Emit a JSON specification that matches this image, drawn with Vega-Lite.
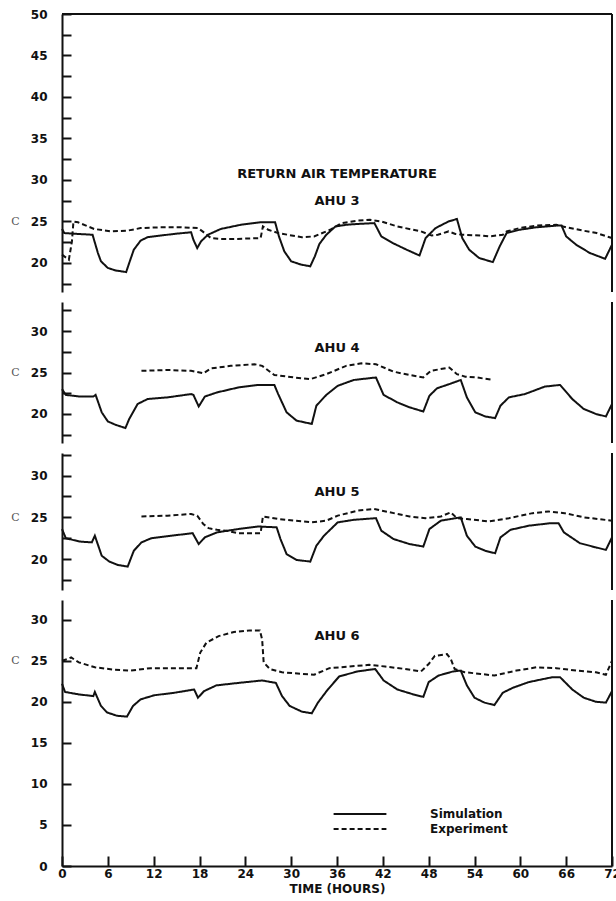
{
  "$schema": "https://vega.github.io/schema/vega-lite/v6.json",
  "background": "white",
  "padding": {"left": 10, "top": 8, "right": 0, "bottom": 4},
  "spacing": 8,
  "datasets": {
    "curves": [
      {"ahu":"AHU 3","series":"Simulation","hour":0,"temp":24.1},{"ahu":"AHU 3","series":"Simulation","hour":0.3,"temp":23.6},{"ahu":"AHU 3","series":"Simulation","hour":2,"temp":23.5},{"ahu":"AHU 3","series":"Simulation","hour":4.0,"temp":23.4},{"ahu":"AHU 3","series":"Simulation","hour":4.7,"temp":21.2},{"ahu":"AHU 3","series":"Simulation","hour":5.1,"temp":20.2},{"ahu":"AHU 3","series":"Simulation","hour":6.0,"temp":19.4},{"ahu":"AHU 3","series":"Simulation","hour":7.0,"temp":19.1},{"ahu":"AHU 3","series":"Simulation","hour":8.4,"temp":18.9},{"ahu":"AHU 3","series":"Simulation","hour":8.8,"temp":20.0},{"ahu":"AHU 3","series":"Simulation","hour":9.4,"temp":21.6},{"ahu":"AHU 3","series":"Simulation","hour":10.3,"temp":22.7},{"ahu":"AHU 3","series":"Simulation","hour":11.2,"temp":23.1},{"ahu":"AHU 3","series":"Simulation","hour":12.9,"temp":23.3},{"ahu":"AHU 3","series":"Simulation","hour":14.7,"temp":23.5},{"ahu":"AHU 3","series":"Simulation","hour":16.9,"temp":23.7},{"ahu":"AHU 3","series":"Simulation","hour":17.2,"temp":22.8},{"ahu":"AHU 3","series":"Simulation","hour":17.7,"temp":21.8},{"ahu":"AHU 3","series":"Simulation","hour":18.2,"temp":22.6},{"ahu":"AHU 3","series":"Simulation","hour":19.1,"temp":23.4},{"ahu":"AHU 3","series":"Simulation","hour":20.8,"temp":24.1},{"ahu":"AHU 3","series":"Simulation","hour":23.4,"temp":24.6},{"ahu":"AHU 3","series":"Simulation","hour":26.0,"temp":24.9},{"ahu":"AHU 3","series":"Simulation","hour":27.9,"temp":24.9},{"ahu":"AHU 3","series":"Simulation","hour":28.4,"temp":23.2},{"ahu":"AHU 3","series":"Simulation","hour":29.1,"temp":21.4},{"ahu":"AHU 3","series":"Simulation","hour":30.0,"temp":20.2},{"ahu":"AHU 3","series":"Simulation","hour":31.3,"temp":19.8},{"ahu":"AHU 3","series":"Simulation","hour":32.5,"temp":19.6},{"ahu":"AHU 3","series":"Simulation","hour":33.1,"temp":20.8},{"ahu":"AHU 3","series":"Simulation","hour":33.7,"temp":22.3},{"ahu":"AHU 3","series":"Simulation","hour":34.6,"temp":23.4},{"ahu":"AHU 3","series":"Simulation","hour":35.8,"temp":24.4},{"ahu":"AHU 3","series":"Simulation","hour":37.2,"temp":24.6},{"ahu":"AHU 3","series":"Simulation","hour":38.7,"temp":24.7},{"ahu":"AHU 3","series":"Simulation","hour":40.9,"temp":24.8},{"ahu":"AHU 3","series":"Simulation","hour":41.8,"temp":23.2},{"ahu":"AHU 3","series":"Simulation","hour":43.3,"temp":22.4},{"ahu":"AHU 3","series":"Simulation","hour":45.1,"temp":21.6},{"ahu":"AHU 3","series":"Simulation","hour":46.8,"temp":20.9},{"ahu":"AHU 3","series":"Simulation","hour":47.6,"temp":23.0},{"ahu":"AHU 3","series":"Simulation","hour":48.9,"temp":24.2},{"ahu":"AHU 3","series":"Simulation","hour":50.6,"temp":25.0},{"ahu":"AHU 3","series":"Simulation","hour":51.7,"temp":25.3},{"ahu":"AHU 3","series":"Simulation","hour":52.4,"temp":23.0},{"ahu":"AHU 3","series":"Simulation","hour":53.3,"temp":21.6},{"ahu":"AHU 3","series":"Simulation","hour":54.6,"temp":20.6},{"ahu":"AHU 3","series":"Simulation","hour":56.4,"temp":20.1},{"ahu":"AHU 3","series":"Simulation","hour":57.3,"temp":22.0},{"ahu":"AHU 3","series":"Simulation","hour":58.2,"temp":23.6},{"ahu":"AHU 3","series":"Simulation","hour":59.9,"temp":24.0},{"ahu":"AHU 3","series":"Simulation","hour":62.1,"temp":24.3},{"ahu":"AHU 3","series":"Simulation","hour":64.7,"temp":24.5},{"ahu":"AHU 3","series":"Simulation","hour":65.4,"temp":24.5},{"ahu":"AHU 3","series":"Simulation","hour":66.0,"temp":23.2},{"ahu":"AHU 3","series":"Simulation","hour":67.3,"temp":22.2},{"ahu":"AHU 3","series":"Simulation","hour":69.1,"temp":21.2},{"ahu":"AHU 3","series":"Simulation","hour":71.1,"temp":20.5},{"ahu":"AHU 3","series":"Simulation","hour":72,"temp":22.2},
      {"ahu":"AHU 3","series":"Experiment","hour":0,"temp":21.0},{"ahu":"AHU 3","series":"Experiment","hour":0.9,"temp":20.4},{"ahu":"AHU 3","series":"Experiment","hour":1.3,"temp":22.6},{"ahu":"AHU 3","series":"Experiment","hour":1.5,"temp":25.0},{"ahu":"AHU 3","series":"Experiment","hour":2.1,"temp":24.9},{"ahu":"AHU 3","series":"Experiment","hour":4.2,"temp":24.1},{"ahu":"AHU 3","series":"Experiment","hour":6.4,"temp":23.8},{"ahu":"AHU 3","series":"Experiment","hour":8.6,"temp":23.9},{"ahu":"AHU 3","series":"Experiment","hour":10.3,"temp":24.2},{"ahu":"AHU 3","series":"Experiment","hour":12.9,"temp":24.3},{"ahu":"AHU 3","series":"Experiment","hour":15.6,"temp":24.3},{"ahu":"AHU 3","series":"Experiment","hour":17.8,"temp":24.2},{"ahu":"AHU 3","series":"Experiment","hour":18.4,"temp":23.8},{"ahu":"AHU 3","series":"Experiment","hour":19.5,"temp":23.0},{"ahu":"AHU 3","series":"Experiment","hour":20.8,"temp":22.9},{"ahu":"AHU 3","series":"Experiment","hour":23.0,"temp":22.9},{"ahu":"AHU 3","series":"Experiment","hour":26.0,"temp":23.0},{"ahu":"AHU 3","series":"Experiment","hour":26.3,"temp":24.4},{"ahu":"AHU 3","series":"Experiment","hour":27.0,"temp":24.0},{"ahu":"AHU 3","series":"Experiment","hour":28.3,"temp":23.6},{"ahu":"AHU 3","series":"Experiment","hour":31.4,"temp":23.1},{"ahu":"AHU 3","series":"Experiment","hour":33.0,"temp":23.2},{"ahu":"AHU 3","series":"Experiment","hour":35.1,"temp":24.0},{"ahu":"AHU 3","series":"Experiment","hour":36.6,"temp":24.8},{"ahu":"AHU 3","series":"Experiment","hour":38.7,"temp":25.1},{"ahu":"AHU 3","series":"Experiment","hour":40.3,"temp":25.2},{"ahu":"AHU 3","series":"Experiment","hour":41.8,"temp":25.0},{"ahu":"AHU 3","series":"Experiment","hour":43.9,"temp":24.4},{"ahu":"AHU 3","series":"Experiment","hour":47.0,"temp":23.8},{"ahu":"AHU 3","series":"Experiment","hour":48.4,"temp":23.3},{"ahu":"AHU 3","series":"Experiment","hour":49.2,"temp":23.4},{"ahu":"AHU 3","series":"Experiment","hour":50.6,"temp":23.8},{"ahu":"AHU 3","series":"Experiment","hour":51.5,"temp":23.5},{"ahu":"AHU 3","series":"Experiment","hour":52.4,"temp":23.4},{"ahu":"AHU 3","series":"Experiment","hour":55.0,"temp":23.3},{"ahu":"AHU 3","series":"Experiment","hour":56.0,"temp":23.2},{"ahu":"AHU 3","series":"Experiment","hour":57.7,"temp":23.4},{"ahu":"AHU 3","series":"Experiment","hour":58.2,"temp":23.8},{"ahu":"AHU 3","series":"Experiment","hour":59.9,"temp":24.2},{"ahu":"AHU 3","series":"Experiment","hour":62.1,"temp":24.5},{"ahu":"AHU 3","series":"Experiment","hour":64.7,"temp":24.6},{"ahu":"AHU 3","series":"Experiment","hour":66.0,"temp":24.3},{"ahu":"AHU 3","series":"Experiment","hour":68.2,"temp":23.9},{"ahu":"AHU 3","series":"Experiment","hour":70.0,"temp":23.6},{"ahu":"AHU 3","series":"Experiment","hour":71.3,"temp":23.2},{"ahu":"AHU 3","series":"Experiment","hour":72,"temp":23.0},
      {"ahu":"AHU 4","series":"Simulation","hour":0,"temp":23.0},{"ahu":"AHU 4","series":"Simulation","hour":0.5,"temp":22.3},{"ahu":"AHU 4","series":"Simulation","hour":2.3,"temp":22.1},{"ahu":"AHU 4","series":"Simulation","hour":4.1,"temp":22.1},{"ahu":"AHU 4","series":"Simulation","hour":4.4,"temp":22.3},{"ahu":"AHU 4","series":"Simulation","hour":5.2,"temp":20.2},{"ahu":"AHU 4","series":"Simulation","hour":6.0,"temp":19.1},{"ahu":"AHU 4","series":"Simulation","hour":7.0,"temp":18.7},{"ahu":"AHU 4","series":"Simulation","hour":8.3,"temp":18.3},{"ahu":"AHU 4","series":"Simulation","hour":8.8,"temp":19.4},{"ahu":"AHU 4","series":"Simulation","hour":9.9,"temp":21.2},{"ahu":"AHU 4","series":"Simulation","hour":11.2,"temp":21.8},{"ahu":"AHU 4","series":"Simulation","hour":13.8,"temp":22.0},{"ahu":"AHU 4","series":"Simulation","hour":16.9,"temp":22.4},{"ahu":"AHU 4","series":"Simulation","hour":17.2,"temp":22.3},{"ahu":"AHU 4","series":"Simulation","hour":17.9,"temp":20.9},{"ahu":"AHU 4","series":"Simulation","hour":18.7,"temp":22.1},{"ahu":"AHU 4","series":"Simulation","hour":20.3,"temp":22.6},{"ahu":"AHU 4","series":"Simulation","hour":23.1,"temp":23.2},{"ahu":"AHU 4","series":"Simulation","hour":25.7,"temp":23.5},{"ahu":"AHU 4","series":"Simulation","hour":27.8,"temp":23.5},{"ahu":"AHU 4","series":"Simulation","hour":28.3,"temp":22.4},{"ahu":"AHU 4","series":"Simulation","hour":29.4,"temp":20.2},{"ahu":"AHU 4","series":"Simulation","hour":30.7,"temp":19.2},{"ahu":"AHU 4","series":"Simulation","hour":32.7,"temp":18.8},{"ahu":"AHU 4","series":"Simulation","hour":33.3,"temp":21.0},{"ahu":"AHU 4","series":"Simulation","hour":34.6,"temp":22.3},{"ahu":"AHU 4","series":"Simulation","hour":36.1,"temp":23.4},{"ahu":"AHU 4","series":"Simulation","hour":38.2,"temp":24.1},{"ahu":"AHU 4","series":"Simulation","hour":41.1,"temp":24.4},{"ahu":"AHU 4","series":"Simulation","hour":42.1,"temp":22.3},{"ahu":"AHU 4","series":"Simulation","hour":43.9,"temp":21.4},{"ahu":"AHU 4","series":"Simulation","hour":45.5,"temp":20.8},{"ahu":"AHU 4","series":"Simulation","hour":47.3,"temp":20.3},{"ahu":"AHU 4","series":"Simulation","hour":48.1,"temp":22.2},{"ahu":"AHU 4","series":"Simulation","hour":49.1,"temp":23.1},{"ahu":"AHU 4","series":"Simulation","hour":50.7,"temp":23.6},{"ahu":"AHU 4","series":"Simulation","hour":52.2,"temp":24.1},{"ahu":"AHU 4","series":"Simulation","hour":53.0,"temp":22.0},{"ahu":"AHU 4","series":"Simulation","hour":54.1,"temp":20.2},{"ahu":"AHU 4","series":"Simulation","hour":55.4,"temp":19.7},{"ahu":"AHU 4","series":"Simulation","hour":56.7,"temp":19.5},{"ahu":"AHU 4","series":"Simulation","hour":57.4,"temp":21.0},{"ahu":"AHU 4","series":"Simulation","hour":58.5,"temp":22.0},{"ahu":"AHU 4","series":"Simulation","hour":60.6,"temp":22.4},{"ahu":"AHU 4","series":"Simulation","hour":63.2,"temp":23.3},{"ahu":"AHU 4","series":"Simulation","hour":65.2,"temp":23.5},{"ahu":"AHU 4","series":"Simulation","hour":66.8,"temp":21.8},{"ahu":"AHU 4","series":"Simulation","hour":68.3,"temp":20.6},{"ahu":"AHU 4","series":"Simulation","hour":69.9,"temp":20.0},{"ahu":"AHU 4","series":"Simulation","hour":71.2,"temp":19.7},{"ahu":"AHU 4","series":"Simulation","hour":72,"temp":21.2},
      {"ahu":"AHU 4","series":"Experiment","hour":10.4,"temp":25.2},{"ahu":"AHU 4","series":"Experiment","hour":13.8,"temp":25.3},{"ahu":"AHU 4","series":"Experiment","hour":16.9,"temp":25.2},{"ahu":"AHU 4","series":"Experiment","hour":18.5,"temp":24.9},{"ahu":"AHU 4","series":"Experiment","hour":19.5,"temp":25.5},{"ahu":"AHU 4","series":"Experiment","hour":22.1,"temp":25.8},{"ahu":"AHU 4","series":"Experiment","hour":25.2,"temp":26.0},{"ahu":"AHU 4","series":"Experiment","hour":26.2,"temp":25.8},{"ahu":"AHU 4","series":"Experiment","hour":27.8,"temp":24.7},{"ahu":"AHU 4","series":"Experiment","hour":30.4,"temp":24.4},{"ahu":"AHU 4","series":"Experiment","hour":32.5,"temp":24.2},{"ahu":"AHU 4","series":"Experiment","hour":34.6,"temp":24.8},{"ahu":"AHU 4","series":"Experiment","hour":37.2,"temp":25.8},{"ahu":"AHU 4","series":"Experiment","hour":39.2,"temp":26.1},{"ahu":"AHU 4","series":"Experiment","hour":41.1,"temp":26.0},{"ahu":"AHU 4","series":"Experiment","hour":43.4,"temp":25.1},{"ahu":"AHU 4","series":"Experiment","hour":45.5,"temp":24.7},{"ahu":"AHU 4","series":"Experiment","hour":47.3,"temp":24.4},{"ahu":"AHU 4","series":"Experiment","hour":48.3,"temp":25.2},{"ahu":"AHU 4","series":"Experiment","hour":50.7,"temp":25.6},{"ahu":"AHU 4","series":"Experiment","hour":51.7,"temp":24.8},{"ahu":"AHU 4","series":"Experiment","hour":52.8,"temp":24.5},{"ahu":"AHU 4","series":"Experiment","hour":54.3,"temp":24.4},{"ahu":"AHU 4","series":"Experiment","hour":56.4,"temp":24.1},
      {"ahu":"AHU 5","series":"Simulation","hour":0,"temp":23.6},{"ahu":"AHU 5","series":"Simulation","hour":0.5,"temp":22.5},{"ahu":"AHU 5","series":"Simulation","hour":2.3,"temp":22.1},{"ahu":"AHU 5","series":"Simulation","hour":3.9,"temp":22.0},{"ahu":"AHU 5","series":"Simulation","hour":4.3,"temp":22.8},{"ahu":"AHU 5","series":"Simulation","hour":5.2,"temp":20.4},{"ahu":"AHU 5","series":"Simulation","hour":6.2,"temp":19.7},{"ahu":"AHU 5","series":"Simulation","hour":7.3,"temp":19.3},{"ahu":"AHU 5","series":"Simulation","hour":8.6,"temp":19.1},{"ahu":"AHU 5","series":"Simulation","hour":9.4,"temp":21.0},{"ahu":"AHU 5","series":"Simulation","hour":10.4,"temp":22.0},{"ahu":"AHU 5","series":"Simulation","hour":11.7,"temp":22.5},{"ahu":"AHU 5","series":"Simulation","hour":14.3,"temp":22.8},{"ahu":"AHU 5","series":"Simulation","hour":17.1,"temp":23.1},{"ahu":"AHU 5","series":"Simulation","hour":17.9,"temp":21.8},{"ahu":"AHU 5","series":"Simulation","hour":18.7,"temp":22.6},{"ahu":"AHU 5","series":"Simulation","hour":20.3,"temp":23.2},{"ahu":"AHU 5","series":"Simulation","hour":23.1,"temp":23.6},{"ahu":"AHU 5","series":"Simulation","hour":25.7,"temp":23.9},{"ahu":"AHU 5","series":"Simulation","hour":28.1,"temp":23.8},{"ahu":"AHU 5","series":"Simulation","hour":28.6,"temp":22.4},{"ahu":"AHU 5","series":"Simulation","hour":29.4,"temp":20.6},{"ahu":"AHU 5","series":"Simulation","hour":30.7,"temp":19.9},{"ahu":"AHU 5","series":"Simulation","hour":32.5,"temp":19.7},{"ahu":"AHU 5","series":"Simulation","hour":33.3,"temp":21.6},{"ahu":"AHU 5","series":"Simulation","hour":34.3,"temp":22.8},{"ahu":"AHU 5","series":"Simulation","hour":36.1,"temp":24.4},{"ahu":"AHU 5","series":"Simulation","hour":38.2,"temp":24.7},{"ahu":"AHU 5","series":"Simulation","hour":41.1,"temp":24.9},{"ahu":"AHU 5","series":"Simulation","hour":41.8,"temp":23.4},{"ahu":"AHU 5","series":"Simulation","hour":43.4,"temp":22.4},{"ahu":"AHU 5","series":"Simulation","hour":45.5,"temp":21.8},{"ahu":"AHU 5","series":"Simulation","hour":47.3,"temp":21.5},{"ahu":"AHU 5","series":"Simulation","hour":48.1,"temp":23.6},{"ahu":"AHU 5","series":"Simulation","hour":49.6,"temp":24.6},{"ahu":"AHU 5","series":"Simulation","hour":52.2,"temp":25.0},{"ahu":"AHU 5","series":"Simulation","hour":53.0,"temp":22.8},{"ahu":"AHU 5","series":"Simulation","hour":54.1,"temp":21.5},{"ahu":"AHU 5","series":"Simulation","hour":55.4,"temp":21.0},{"ahu":"AHU 5","series":"Simulation","hour":56.7,"temp":20.7},{"ahu":"AHU 5","series":"Simulation","hour":57.4,"temp":22.6},{"ahu":"AHU 5","series":"Simulation","hour":58.7,"temp":23.5},{"ahu":"AHU 5","series":"Simulation","hour":61.1,"temp":24.0},{"ahu":"AHU 5","series":"Simulation","hour":64.0,"temp":24.3},{"ahu":"AHU 5","series":"Simulation","hour":65.0,"temp":24.3},{"ahu":"AHU 5","series":"Simulation","hour":65.7,"temp":23.2},{"ahu":"AHU 5","series":"Simulation","hour":67.8,"temp":21.9},{"ahu":"AHU 5","series":"Simulation","hour":69.9,"temp":21.4},{"ahu":"AHU 5","series":"Simulation","hour":71.2,"temp":21.1},{"ahu":"AHU 5","series":"Simulation","hour":72,"temp":22.6},
      {"ahu":"AHU 5","series":"Experiment","hour":10.4,"temp":25.1},{"ahu":"AHU 5","series":"Experiment","hour":13.8,"temp":25.2},{"ahu":"AHU 5","series":"Experiment","hour":16.9,"temp":25.4},{"ahu":"AHU 5","series":"Experiment","hour":17.7,"temp":25.2},{"ahu":"AHU 5","series":"Experiment","hour":18.5,"temp":24.2},{"ahu":"AHU 5","series":"Experiment","hour":19.2,"temp":23.7},{"ahu":"AHU 5","series":"Experiment","hour":20.3,"temp":23.5},{"ahu":"AHU 5","series":"Experiment","hour":21.5,"temp":23.4},{"ahu":"AHU 5","series":"Experiment","hour":23.1,"temp":23.1},{"ahu":"AHU 5","series":"Experiment","hour":26.0,"temp":23.1},{"ahu":"AHU 5","series":"Experiment","hour":26.3,"temp":25.1},{"ahu":"AHU 5","series":"Experiment","hour":28.3,"temp":24.8},{"ahu":"AHU 5","series":"Experiment","hour":30.4,"temp":24.6},{"ahu":"AHU 5","series":"Experiment","hour":32.7,"temp":24.4},{"ahu":"AHU 5","series":"Experiment","hour":34.6,"temp":24.6},{"ahu":"AHU 5","series":"Experiment","hour":36.1,"temp":25.2},{"ahu":"AHU 5","series":"Experiment","hour":38.7,"temp":25.8},{"ahu":"AHU 5","series":"Experiment","hour":40.8,"temp":26.0},{"ahu":"AHU 5","series":"Experiment","hour":42.9,"temp":25.6},{"ahu":"AHU 5","series":"Experiment","hour":45.5,"temp":25.1},{"ahu":"AHU 5","series":"Experiment","hour":47.6,"temp":24.9},{"ahu":"AHU 5","series":"Experiment","hour":49.6,"temp":25.1},{"ahu":"AHU 5","series":"Experiment","hour":50.9,"temp":25.6},{"ahu":"AHU 5","series":"Experiment","hour":51.7,"temp":24.9},{"ahu":"AHU 5","series":"Experiment","hour":53.0,"temp":24.8},{"ahu":"AHU 5","series":"Experiment","hour":55.9,"temp":24.5},{"ahu":"AHU 5","series":"Experiment","hour":58.5,"temp":24.9},{"ahu":"AHU 5","series":"Experiment","hour":61.6,"temp":25.5},{"ahu":"AHU 5","series":"Experiment","hour":63.7,"temp":25.7},{"ahu":"AHU 5","series":"Experiment","hour":65.8,"temp":25.5},{"ahu":"AHU 5","series":"Experiment","hour":68.3,"temp":25.0},{"ahu":"AHU 5","series":"Experiment","hour":72,"temp":24.6},
      {"ahu":"AHU 6","series":"Simulation","hour":0,"temp":22.2},{"ahu":"AHU 6","series":"Simulation","hour":0.4,"temp":21.2},{"ahu":"AHU 6","series":"Simulation","hour":2.2,"temp":20.9},{"ahu":"AHU 6","series":"Simulation","hour":4.1,"temp":20.7},{"ahu":"AHU 6","series":"Simulation","hour":4.3,"temp":21.2},{"ahu":"AHU 6","series":"Simulation","hour":5.1,"temp":19.5},{"ahu":"AHU 6","series":"Simulation","hour":5.9,"temp":18.7},{"ahu":"AHU 6","series":"Simulation","hour":7.2,"temp":18.3},{"ahu":"AHU 6","series":"Simulation","hour":8.5,"temp":18.2},{"ahu":"AHU 6","series":"Simulation","hour":9.3,"temp":19.5},{"ahu":"AHU 6","series":"Simulation","hour":10.3,"temp":20.3},{"ahu":"AHU 6","series":"Simulation","hour":12.1,"temp":20.8},{"ahu":"AHU 6","series":"Simulation","hour":14.7,"temp":21.1},{"ahu":"AHU 6","series":"Simulation","hour":17.3,"temp":21.5},{"ahu":"AHU 6","series":"Simulation","hour":17.8,"temp":20.5},{"ahu":"AHU 6","series":"Simulation","hour":18.6,"temp":21.3},{"ahu":"AHU 6","series":"Simulation","hour":20.2,"temp":22.0},{"ahu":"AHU 6","series":"Simulation","hour":23.1,"temp":22.3},{"ahu":"AHU 6","series":"Simulation","hour":26.2,"temp":22.6},{"ahu":"AHU 6","series":"Simulation","hour":28.0,"temp":22.3},{"ahu":"AHU 6","series":"Simulation","hour":28.8,"temp":20.7},{"ahu":"AHU 6","series":"Simulation","hour":29.8,"temp":19.5},{"ahu":"AHU 6","series":"Simulation","hour":31.4,"temp":18.8},{"ahu":"AHU 6","series":"Simulation","hour":32.7,"temp":18.6},{"ahu":"AHU 6","series":"Simulation","hour":33.5,"temp":19.9},{"ahu":"AHU 6","series":"Simulation","hour":34.8,"temp":21.5},{"ahu":"AHU 6","series":"Simulation","hour":36.3,"temp":23.1},{"ahu":"AHU 6","series":"Simulation","hour":38.7,"temp":23.7},{"ahu":"AHU 6","series":"Simulation","hour":41.0,"temp":24.0},{"ahu":"AHU 6","series":"Simulation","hour":42.1,"temp":22.6},{"ahu":"AHU 6","series":"Simulation","hour":43.9,"temp":21.5},{"ahu":"AHU 6","series":"Simulation","hour":46.0,"temp":20.9},{"ahu":"AHU 6","series":"Simulation","hour":47.3,"temp":20.6},{"ahu":"AHU 6","series":"Simulation","hour":48.0,"temp":22.4},{"ahu":"AHU 6","series":"Simulation","hour":49.3,"temp":23.2},{"ahu":"AHU 6","series":"Simulation","hour":51.2,"temp":23.7},{"ahu":"AHU 6","series":"Simulation","hour":52.2,"temp":23.8},{"ahu":"AHU 6","series":"Simulation","hour":53.0,"temp":22.0},{"ahu":"AHU 6","series":"Simulation","hour":54.0,"temp":20.5},{"ahu":"AHU 6","series":"Simulation","hour":55.3,"temp":19.9},{"ahu":"AHU 6","series":"Simulation","hour":56.6,"temp":19.6},{"ahu":"AHU 6","series":"Simulation","hour":57.7,"temp":21.1},{"ahu":"AHU 6","series":"Simulation","hour":59.0,"temp":21.7},{"ahu":"AHU 6","series":"Simulation","hour":61.1,"temp":22.4},{"ahu":"AHU 6","series":"Simulation","hour":64.2,"temp":23.0},{"ahu":"AHU 6","series":"Simulation","hour":65.2,"temp":23.0},{"ahu":"AHU 6","series":"Simulation","hour":66.8,"temp":21.5},{"ahu":"AHU 6","series":"Simulation","hour":68.3,"temp":20.5},{"ahu":"AHU 6","series":"Simulation","hour":69.9,"temp":20.0},{"ahu":"AHU 6","series":"Simulation","hour":71.2,"temp":19.9},{"ahu":"AHU 6","series":"Simulation","hour":72,"temp":21.3},
      {"ahu":"AHU 6","series":"Experiment","hour":0,"temp":25.0},{"ahu":"AHU 6","series":"Experiment","hour":0.7,"temp":25.2},{"ahu":"AHU 6","series":"Experiment","hour":1.2,"temp":25.4},{"ahu":"AHU 6","series":"Experiment","hour":2.2,"temp":24.8},{"ahu":"AHU 6","series":"Experiment","hour":4.3,"temp":24.2},{"ahu":"AHU 6","series":"Experiment","hour":6.9,"temp":23.9},{"ahu":"AHU 6","series":"Experiment","hour":9.0,"temp":23.8},{"ahu":"AHU 6","series":"Experiment","hour":11.6,"temp":24.1},{"ahu":"AHU 6","series":"Experiment","hour":14.7,"temp":24.1},{"ahu":"AHU 6","series":"Experiment","hour":17.6,"temp":24.1},{"ahu":"AHU 6","series":"Experiment","hour":18.1,"temp":26.0},{"ahu":"AHU 6","series":"Experiment","hour":18.9,"temp":27.2},{"ahu":"AHU 6","series":"Experiment","hour":20.5,"temp":28.0},{"ahu":"AHU 6","series":"Experiment","hour":22.5,"temp":28.5},{"ahu":"AHU 6","series":"Experiment","hour":24.6,"temp":28.7},{"ahu":"AHU 6","series":"Experiment","hour":25.9,"temp":28.7},{"ahu":"AHU 6","series":"Experiment","hour":26.2,"temp":27.6},{"ahu":"AHU 6","series":"Experiment","hour":26.4,"temp":24.8},{"ahu":"AHU 6","series":"Experiment","hour":27.2,"temp":24.0},{"ahu":"AHU 6","series":"Experiment","hour":28.8,"temp":23.6},{"ahu":"AHU 6","series":"Experiment","hour":31.4,"temp":23.4},{"ahu":"AHU 6","series":"Experiment","hour":33.0,"temp":23.3},{"ahu":"AHU 6","series":"Experiment","hour":35.0,"temp":24.1},{"ahu":"AHU 6","series":"Experiment","hour":37.6,"temp":24.3},{"ahu":"AHU 6","series":"Experiment","hour":40.2,"temp":24.5},{"ahu":"AHU 6","series":"Experiment","hour":42.3,"temp":24.3},{"ahu":"AHU 6","series":"Experiment","hour":44.9,"temp":24.0},{"ahu":"AHU 6","series":"Experiment","hour":47.0,"temp":23.7},{"ahu":"AHU 6","series":"Experiment","hour":48.0,"temp":24.6},{"ahu":"AHU 6","series":"Experiment","hour":48.8,"temp":25.6},{"ahu":"AHU 6","series":"Experiment","hour":50.4,"temp":25.8},{"ahu":"AHU 6","series":"Experiment","hour":50.9,"temp":25.2},{"ahu":"AHU 6","series":"Experiment","hour":51.4,"temp":24.0},{"ahu":"AHU 6","series":"Experiment","hour":52.7,"temp":23.6},{"ahu":"AHU 6","series":"Experiment","hour":54.8,"temp":23.4},{"ahu":"AHU 6","series":"Experiment","hour":56.6,"temp":23.2},{"ahu":"AHU 6","series":"Experiment","hour":59.5,"temp":23.8},{"ahu":"AHU 6","series":"Experiment","hour":62.1,"temp":24.2},{"ahu":"AHU 6","series":"Experiment","hour":64.7,"temp":24.1},{"ahu":"AHU 6","series":"Experiment","hour":67.3,"temp":23.8},{"ahu":"AHU 6","series":"Experiment","hour":69.9,"temp":23.6},{"ahu":"AHU 6","series":"Experiment","hour":71.2,"temp":23.3},{"ahu":"AHU 6","series":"Experiment","hour":72,"temp":25.0}
    ]
  },
  "vconcat": [
    {
      "width": 550, "height": 278,
      "resolve": {"axis": {"y": "independent"}},
      "layer": [
        {"data": {"name": "curves"}, "transform": [{"filter": "datum.ahu === 'AHU 3'"}],
         "mark": {"type": "line", "strokeWidth": 2, "color": "#111"},
         "encoding": {
           "x": {"field": "hour", "type": "quantitative", "scale": {"domain": [0, 72], "nice": false}, "axis": null},
           "y": {"field": "temp", "type": "quantitative", "scale": {"domain": [16.5, 50], "nice": false, "zero": false},
                 "axis": {"orient": "left", "values": [20,25,30,35,40,45,50], "title": "C", "titleY": 207.5}},
           "strokeDash": {"field": "series", "type": "nominal", "scale": {"domain": ["Simulation", "Experiment"], "range": [[1, 0], [5, 3]]}, "legend": null}
         }},
        {"data": {"values": [{}]}, "mark": {"type": "rule", "strokeWidth": 2, "color": "#111"}, "encoding": {"y": {"datum": 50, "axis": null}}},
        {"data": {"values": [{}]}, "mark": {"type": "rule", "strokeWidth": 2, "color": "#111"}, "encoding": {"x": {"datum": 72}}},
        {"data": {"values": [{}]}, "mark": {"type": "text", "text": "RETURN AIR TEMPERATURE", "font": "DejaVu Sans", "fontWeight": "bold", "fontSize": 13, "color": "#111"}, "encoding": {"x": {"datum": 36}, "y": {"datum": 30.7, "axis": null}}},
        {"data": {"values": [{}]}, "mark": {"type": "text", "text": "AHU 3", "font": "DejaVu Sans", "fontWeight": "bold", "fontSize": 13, "color": "#111"}, "encoding": {"x": {"datum": 36}, "y": {"datum": 27.5, "axis": {"orient": "left", "values": [17.5,22.5,27.5,32.5,37.5,42.5,47.5], "labels": false, "domain": false, "title": null}}}}
      ]
    },
    {
      "width": 550, "height": 141,
      "resolve": {"axis": {"y": "independent"}},
      "layer": [
        {"data": {"name": "curves"}, "transform": [{"filter": "datum.ahu === 'AHU 4'"}],
         "mark": {"type": "line", "strokeWidth": 2, "color": "#111"},
         "encoding": {
           "x": {"field": "hour", "type": "quantitative", "scale": {"domain": [0, 72], "nice": false}, "axis": null},
           "y": {"field": "temp", "type": "quantitative", "scale": {"domain": [16.5, 33.5], "nice": false, "zero": false},
                 "axis": {"orient": "left", "values": [20,25,30], "title": "C", "titleY": 70.5}},
           "strokeDash": {"field": "series", "type": "nominal", "scale": {"domain": ["Simulation", "Experiment"], "range": [[1, 0], [5, 3]]}, "legend": null}
         }},
        {"data": {"values": [{}]}, "mark": {"type": "rule", "strokeWidth": 2, "color": "#111"}, "encoding": {"x": {"datum": 72}}},
        {"data": {"values": [{}]}, "mark": {"type": "text", "text": "AHU 4", "font": "DejaVu Sans", "fontWeight": "bold", "fontSize": 13, "color": "#111"}, "encoding": {"x": {"datum": 36}, "y": {"datum": 28.0, "axis": {"orient": "left", "values": [17.5,22.5,27.5,32.5], "labels": false, "domain": false, "title": null}}}}
      ]
    },
    {
      "width": 550, "height": 137,
      "resolve": {"axis": {"y": "independent"}},
      "layer": [
        {"data": {"name": "curves"}, "transform": [{"filter": "datum.ahu === 'AHU 5'"}],
         "mark": {"type": "line", "strokeWidth": 2, "color": "#111"},
         "encoding": {
           "x": {"field": "hour", "type": "quantitative", "scale": {"domain": [0, 72], "nice": false}, "axis": null},
           "y": {"field": "temp", "type": "quantitative", "scale": {"domain": [16.3, 32.7], "nice": false, "zero": false},
                 "axis": {"orient": "left", "values": [20,25,30], "title": "C", "titleY": 64}},
           "strokeDash": {"field": "series", "type": "nominal", "scale": {"domain": ["Simulation", "Experiment"], "range": [[1, 0], [5, 3]]}, "legend": null}
         }},
        {"data": {"values": [{}]}, "mark": {"type": "rule", "strokeWidth": 2, "color": "#111"}, "encoding": {"x": {"datum": 72}}},
        {"data": {"values": [{}]}, "mark": {"type": "text", "text": "AHU 5", "font": "DejaVu Sans", "fontWeight": "bold", "fontSize": 13, "color": "#111"}, "encoding": {"x": {"datum": 36}, "y": {"datum": 28.0, "axis": {"orient": "left", "values": [17.5,22.5,27.5,32.5], "labels": false, "domain": false, "title": null}}}}
      ]
    },
    {
      "width": 550, "height": 266,
      "layer": [
        {"data": {"name": "curves"}, "transform": [{"filter": "datum.ahu === 'AHU 6'"}],
         "mark": {"type": "line", "strokeWidth": 2, "color": "#111"},
         "encoding": {
           "x": {"field": "hour", "type": "quantitative", "scale": {"domain": [0, 72], "nice": false},
                 "axis": {"values": [0,3,6,9,12,15,18,21,24,27,30,33,36,39,42,45,48,51,54,57,60,63,66,69,72], "labelExpr": "datum.value % 6 === 0 ? datum.label : ''", "title": "TIME (HOURS)", "tickSize": -10, "labelPadding": 12, "titlePadding": 4, "titleFont": "DejaVu Sans", "titleFontWeight": "bold", "titleFontSize": 12}},
           "y": {"field": "temp", "type": "quantitative", "scale": {"domain": [0, 32.4], "nice": false, "zero": false},
                 "axis": {"values": [0,2.5,5,7.5,10,12.5,15,17.5,20,22.5,25,27.5,30], "labelExpr": "datum.value % 5 === 0 ? datum.label : ''", "title": "C", "titleY": 60.8}},
           "strokeDash": {"field": "series", "type": "nominal", "scale": {"domain": ["Simulation", "Experiment"], "range": [[1, 0], [5, 3]]},
                          "legend": {"orient": "none", "legendX": 289, "legendY": 205, "padding": 0, "title": null, "symbolType": "M-3.3,0L3.3,0", "symbolSize": 256, "symbolStrokeWidth": 2, "symbolStrokeColor": "#111", "symbolFillColor": "transparent", "labelOffset": 61, "labelFont": "DejaVu Sans", "labelFontWeight": "bold", "labelFontSize": 12, "labelColor": "#111", "rowPadding": 0}}
         }},
        {"data": {"values": [{}]}, "mark": {"type": "rule", "strokeWidth": 2, "color": "#111"}, "encoding": {"x": {"datum": 72}}},
        {"data": {"values": [{}]}, "mark": {"type": "text", "text": "AHU 6", "font": "DejaVu Sans", "fontWeight": "bold", "fontSize": 13, "color": "#111"}, "encoding": {"x": {"datum": 36}, "y": {"datum": 28.0}}}
      ]
    }
  ],
  "resolve": {"scale": {"y": "independent", "strokeDash": "independent"}, "legend": {"strokeDash": "independent"}},
  "config": {
    "view": {"stroke": null},
    "font": "DejaVu Sans",
    "axis": {"domainColor": "#111", "domainWidth": 2, "tickColor": "#111", "tickWidth": 2, "grid": false, "labelFont": "DejaVu Sans", "labelFontWeight": "bold", "labelFontSize": 12, "labelColor": "#111", "labelFlush": false, "labelOverlap": false, "titleColor": "#111"},
    "axisY": {"tickSize": -9, "labelPadding": 24, "titleAngle": 0, "titleX": -47, "titleAlign": "center", "titleBaseline": "middle", "titleFont": "DejaVu Serif", "titleFontWeight": "normal", "titleFontSize": 11, "titleColor": "#555"}
  }
}
